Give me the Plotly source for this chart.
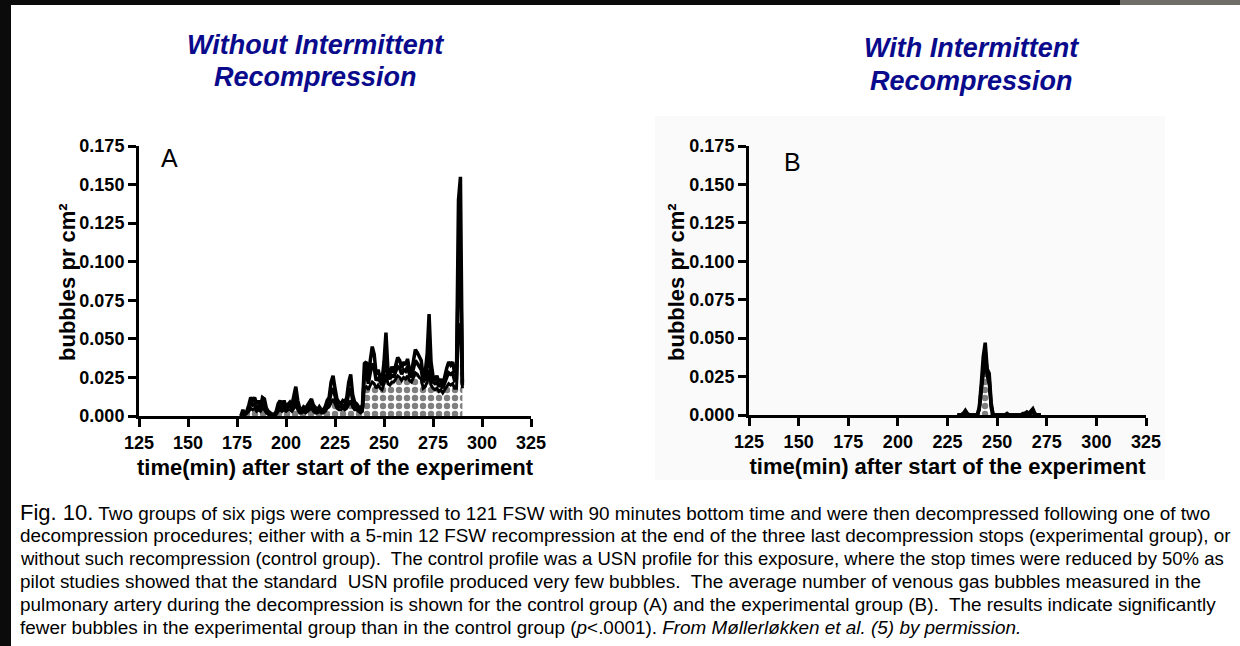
import plotly.graph_objects as go

W, H = 1240, 646

# ---- data -------------------------------------------------------------
# Panel A: control group (without intermittent recompression), 1-min samples
a_time = list(range(177, 291))
a_upper = [
    0.000, 0.004, 0.001, 0.003, 0.007, 0.012, 0.010, 0.012, 0.008, 0.010,   # 177-186
    0.006, 0.012, 0.011, 0.005, 0.003, 0.002, 0.001, 0.001, 0.003, 0.008,   # 187-196
    0.010, 0.007, 0.010, 0.006, 0.008, 0.009, 0.007, 0.012, 0.019, 0.010,   # 197-206
    0.005, 0.004, 0.006, 0.005, 0.007, 0.009, 0.011, 0.007, 0.005, 0.004,   # 207-216
    0.006, 0.004, 0.004, 0.006, 0.010, 0.012, 0.022, 0.026, 0.018, 0.011,   # 217-226
    0.009, 0.008, 0.010, 0.009, 0.012, 0.022, 0.027, 0.014, 0.009, 0.008,   # 227-236
    0.006, 0.005, 0.007, 0.034, 0.035, 0.024, 0.036, 0.045, 0.040, 0.027,   # 237-246
    0.030, 0.025, 0.023, 0.035, 0.054, 0.030, 0.027, 0.032, 0.028, 0.033,   # 247-256
    0.038, 0.036, 0.031, 0.035, 0.033, 0.037, 0.030, 0.028, 0.036, 0.043,   # 257-266
    0.041, 0.038, 0.036, 0.025, 0.028, 0.040, 0.066, 0.035, 0.026, 0.024,   # 267-276
    0.026, 0.022, 0.024, 0.020, 0.026, 0.031, 0.035, 0.033, 0.035, 0.028,   # 277-286
    0.030, 0.140, 0.155, 0.022,                                             # 287-290
]
a_mid = [
    0.000, 0.002, 0.001, 0.002, 0.005, 0.008, 0.007, 0.008, 0.005, 0.007,   # 177-186
    0.004, 0.008, 0.007, 0.003, 0.002, 0.001, 0.001, 0.001, 0.002, 0.005,   # 187-196
    0.007, 0.005, 0.007, 0.004, 0.006, 0.006, 0.005, 0.008, 0.013, 0.007,   # 197-206
    0.003, 0.003, 0.004, 0.003, 0.005, 0.006, 0.008, 0.005, 0.003, 0.003,   # 207-216
    0.004, 0.003, 0.003, 0.004, 0.007, 0.009, 0.015, 0.018, 0.013, 0.008,   # 217-226
    0.006, 0.006, 0.007, 0.006, 0.008, 0.015, 0.018, 0.010, 0.006, 0.006,   # 227-236
    0.004, 0.003, 0.005, 0.026, 0.028, 0.021, 0.028, 0.034, 0.031, 0.023,   # 237-246
    0.025, 0.022, 0.020, 0.028, 0.040, 0.026, 0.024, 0.027, 0.025, 0.029,   # 247-256
    0.032, 0.031, 0.027, 0.030, 0.029, 0.032, 0.027, 0.025, 0.031, 0.036,   # 257-266
    0.034, 0.032, 0.030, 0.022, 0.024, 0.031, 0.048, 0.028, 0.022, 0.021,   # 267-276
    0.022, 0.019, 0.021, 0.018, 0.022, 0.025, 0.028, 0.027, 0.028, 0.023,   # 277-286
    0.024, 0.100, 0.105, 0.020,                                             # 287-290
]
a_lower = [
    0.000, 0.001, 0.001, 0.002, 0.003, 0.005, 0.004, 0.005, 0.003, 0.004,   # 177-186
    0.003, 0.005, 0.004, 0.002, 0.001, 0.001, 0.000, 0.000, 0.001, 0.003,   # 187-196
    0.004, 0.003, 0.004, 0.003, 0.004, 0.004, 0.003, 0.005, 0.008, 0.004,   # 197-206
    0.002, 0.002, 0.003, 0.002, 0.003, 0.004, 0.005, 0.003, 0.002, 0.002,   # 207-216
    0.003, 0.002, 0.002, 0.003, 0.005, 0.006, 0.009, 0.011, 0.008, 0.005,   # 217-226
    0.004, 0.004, 0.005, 0.004, 0.005, 0.008, 0.010, 0.006, 0.004, 0.004,   # 227-236
    0.003, 0.002, 0.003, 0.018, 0.019, 0.017, 0.020, 0.022, 0.021, 0.018,   # 237-246
    0.020, 0.018, 0.017, 0.021, 0.027, 0.021, 0.020, 0.022, 0.022, 0.024,   # 247-256
    0.026, 0.025, 0.023, 0.025, 0.024, 0.026, 0.023, 0.022, 0.025, 0.028,   # 257-266
    0.027, 0.025, 0.024, 0.018, 0.019, 0.022, 0.030, 0.020, 0.018, 0.017,   # 267-276
    0.018, 0.016, 0.017, 0.015, 0.017, 0.019, 0.021, 0.020, 0.021, 0.018,   # 277-286
    0.018, 0.055, 0.060, 0.018,                                             # 287-290
]

# Panel B: experimental group (with intermittent recompression)
b_time = [230, 232, 233, 234, 235, 236, 240, 241, 242, 243, 244, 245, 246, 247, 248,
          254, 255, 256, 262, 263, 264, 265, 266, 267, 268, 269, 270, 272]
b_upper = [0.000, 0.000, 0.001, 0.003, 0.001, 0.000, 0.000, 0.005, 0.020, 0.038, 0.047,
           0.030, 0.027, 0.008, 0.000, 0.000, 0.001, 0.000, 0.000, 0.001, 0.001, 0.002,
           0.001, 0.003, 0.004, 0.001, 0.000, 0.000]
b_mid = [0.000, 0.000, 0.001, 0.002, 0.000, 0.000, 0.000, 0.004, 0.017, 0.034, 0.042,
         0.027, 0.023, 0.006, 0.000, 0.000, 0.000, 0.000, 0.000, 0.000, 0.001, 0.001,
         0.001, 0.002, 0.003, 0.000, 0.000, 0.000]
b_lower = [0.000, 0.000, 0.000, 0.001, 0.000, 0.000, 0.000, 0.003, 0.015, 0.030, 0.038,
           0.025, 0.020, 0.004, 0.000, 0.000, 0.000, 0.000, 0.000, 0.000, 0.000, 0.001,
           0.000, 0.001, 0.002, 0.000, 0.000, 0.000]

x_ticks = [125, 150, 175, 200, 225, 250, 275, 300, 325]
y_ticks = [0.000, 0.025, 0.050, 0.075, 0.100, 0.125, 0.150, 0.175]

panel_titles = [["Without Intermittent", "Recompression"],
                ["With Intermittent", "Recompression"]]
panel_letters = ["A", "B"]
x_title = "time(min) after start of the experiment"
y_title = "bubbles pr cm²"

caption_lines = [
    "<span style='font-size:22px'>Fig. 10.</span> Two groups of six pigs were compressed to 121 FSW with 90 minutes bottom time and were then decompressed following one of two",
    "decompression procedures; either with a 5-min 12 FSW recompression at the end of the three last decompression stops (experimental group), or",
    "without such recompression (control group).  The control profile was a USN profile for this exposure, where the stop times were reduced by 50% as",
    "pilot studies showed that the standard  USN profile produced very few bubbles.  The average number of venous gas bubbles measured in the",
    "pulmonary artery during the decompression is shown for the control group (A) and the experimental group (B).  The results indicate significantly",
    "fewer bubbles in the experimental group than in the control group (<i>p</i>&lt;.0001). <i>From Møllerløkken et al. (5) by permission.</i>",
]
# the longest caption line is set a touch smaller so it stays inside the page
caption_sizes = [18.9, 18.9, 18.5, 18.9, 18.9, 18.9]


def fx(px):
    return px / W


def fy(py):
    return 1 - py / H


FONT = "Liberation Sans, Arial, sans-serif"
NAVY = "#0a0a8c"

fig = go.Figure()

panels = [
    dict(t=a_time, up=a_upper, mid=a_mid, lo=a_lower, xa="x", ya="y"),
    dict(t=b_time, up=b_upper, mid=b_mid, lo=b_lower, xa="x2", ya="y2"),
]
for p in panels:
    # lower band edge, with the checked fill down to zero
    fig.add_trace(go.Scatter(
        x=p["t"], y=p["lo"], xaxis=p["xa"], yaxis=p["ya"], mode="lines",
        line=dict(color="black", width=3),
        fill="tozeroy", fillcolor="white",
        fillpattern=dict(shape=".", size=8, solidity=0.5, fgcolor="black", bgcolor="white"),
        showlegend=False, hoverinfo="skip",
    ))
    for key in ("mid", "up"):
        fig.add_trace(go.Scatter(
            x=p["t"], y=p[key], xaxis=p["xa"], yaxis=p["ya"], mode="lines",
            line=dict(color="black", width=3.5),
            showlegend=False, hoverinfo="skip",
        ))

axis_common = dict(
    showline=True, linewidth=3, linecolor="black", mirror=False,
    ticks="outside", ticklen=8, tickwidth=3, tickcolor="black",
    showgrid=False, zeroline=False, fixedrange=True, automargin=False,
    tickfont=dict(family=FONT, size=18, color="black", weight="bold"),
)
title_font = dict(family=FONT, size=22, color="black", weight="bold")

# pixel geometry of the two plotting areas
dom = [
    dict(x0=139, x1=531, y0=416, y1=146),
    dict(x0=749, x1=1146, y0=415, y1=146),
]
for i, d in enumerate(dom):
    sfx = "" if i == 0 else "2"
    fig.update_layout(**{
        "xaxis" + sfx: dict(axis_common, domain=[fx(d["x0"]), fx(d["x1"])], range=[125, 325],
                            tickvals=x_ticks, anchor="y" + sfx,
                            title=dict(text=x_title, font=title_font, standoff=9)),
        "yaxis" + sfx: dict(axis_common, domain=[fy(d["y0"]), fy(d["y1"])], range=[0, 0.175],
                            tickvals=y_ticks, tickformat=".3f", anchor="x" + sfx),
    })

ann = []


def add_text(px, py, text, font, **kw):
    ann.append(dict(xref="paper", yref="paper", x=fx(px), y=fy(py), text=text,
                    showarrow=False, font=font, **kw))


head_font = dict(family=FONT, size=27, color=NAVY, weight="bold", style="italic")
letter_font = dict(family=FONT, size=25, color="black")

# panel headings
for (l1, l2), cx, ys in zip(panel_titles, [315, 972], [(45, 77), (48, 81)]):
    for txt, yy in zip((l1, l2), ys):
        add_text(cx, yy, txt, head_font, xanchor="center", yanchor="middle")
# panel letters
for letter, (cx, cy) in zip(panel_letters, [(169, 158), (792, 162)]):
    add_text(cx, cy, letter, letter_font, xanchor="center", yanchor="middle")
# vertical axis titles
for cx in (68, 677):
    add_text(cx, 282, y_title, title_font, textangle=-90, xanchor="center", yanchor="middle")
# caption
for k, (line, size) in enumerate(zip(caption_lines, caption_sizes)):
    add_text(18, 512 + 23 * k, line, dict(family=FONT, size=size, color="black"),
             xanchor="left", yanchor="middle", align="left")

shapes = [
    # faint backdrop behind the right panel
    dict(type="rect", xref="paper", yref="paper", x0=fx(655), x1=fx(1165), y0=fy(480), y1=fy(116),
         fillcolor="#fafafa", line=dict(width=0), layer="below"),
    # dark frame at the top and left edges
    dict(type="rect", xref="paper", yref="paper", x0=0, x1=1, y0=fy(5), y1=1,
         fillcolor="#0b0b0b", line=dict(width=0), layer="above"),
    dict(type="rect", xref="paper", yref="paper", x0=fx(1120), x1=1, y0=fy(5), y1=1,
         fillcolor="#6e6e66", line=dict(width=0), layer="above"),
    dict(type="rect", xref="paper", yref="paper", x0=0, x1=fx(11), y0=0, y1=1,
         fillcolor="#0b0b0b", line=dict(width=0), layer="above"),
]

fig.update_layout(
    width=W, height=H, margin=dict(l=0, r=0, t=0, b=0),
    paper_bgcolor="white", plot_bgcolor="rgba(0,0,0,0)",
    annotations=ann, shapes=shapes, showlegend=False,
)

fig.write_html("out.html", config={"displayModeBar": False})
